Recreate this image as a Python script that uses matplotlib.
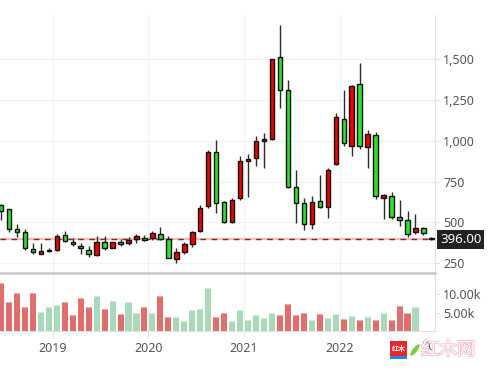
import numpy as np
import matplotlib.pyplot as plt
import matplotlib.transforms as mtransforms
import matplotlib.patheffects as pe
from matplotlib.patches import Rectangle, Ellipse

plt.rcParams['font.family'] = ['Noto Sans', 'Noto Sans CJK SC', 'DejaVu Sans']

# monthly candles
opens = [605, 581, 457, 440, 340, 309, 334, 334, 420, 377, 358, 334, 303, 383, 346, 377, 371, 401, 407,
         407, 432, 401, 274, 321, 368, 445, 600, 933, 625, 500, 649, 876, 892, 996, 1012, 1516, 1314,
         714, 622, 488, 632, 596, 855, 1132, 966, 1349, 961, 1035, 647, 662, 533, 515, 439, 466, 405]
highs = [610, 585, 489, 458, 371, 374, 342, 428, 448, 407, 374, 354, 414, 414, 380, 401, 411, 426, 420,
         448, 469, 417, 346, 382, 449, 604, 941, 1006, 633, 649, 904, 919, 1031, 1047, 1503, 1712, 1375,
         824, 647, 661, 792, 833, 1173, 1311, 1345, 1476, 1068, 1053, 676, 684, 639, 570, 553, 472, 413]
lows = [513, 444, 411, 334, 305, 309, 317, 323, 380, 358, 309, 291, 297, 334, 346, 356, 360, 371, 387,
        391, 395, 279, 254, 309, 351, 440, 588, 558, 494, 498, 637, 653, 843, 833, 1008, 1204, 708,
        494, 453, 457, 590, 530, 850, 968, 904, 949, 833, 643, 521, 521, 476, 409, 429, 425, 392]
closes = [570, 457, 440, 346, 316, 323, 322, 414, 387, 365, 346, 309, 377, 346, 377, 365, 395, 414, 395,
          438, 399, 281, 321, 366, 441, 588, 933, 617, 500, 637, 876, 890, 1000, 1012, 1500, 1314, 720,
          622, 488, 628, 592, 824, 1147, 986, 1337, 966, 1041, 662, 668, 531, 513, 429, 466, 433, 396]

# volume in thousands, with its own colour flag (1 = red, 0 = green)
volumes = [12.85, 7.93, 10.26, 6.63, 10.26, 5.34, 6.63, 7.15, 7.93, 4.56, 8.96, 6.63, 9.48, 6.11,
           8.19, 4.82, 7.93, 5.08, 6.63, 5.08, 9.48, 4.04, 4.04, 3.0, 5.86, 6.11, 11.55, 4.04,
           5.08, 3.0, 5.86, 3.26, 4.56, 3.78, 5.08, 4.56, 7.41, 4.56, 5.08, 3.26, 4.82, 3.78,
           4.82, 3.52, 4.3, 3.26, 4.04, 3.26, 5.08, 3.26, 6.89, 5.08, 6.63]
vol_red = [1, 1, 1, 1, 1, 0, 0, 0, 1, 1, 1, 1, 0, 1, 0, 1, 0, 0, 1, 0, 1, 1, 0, 0, 0, 0, 0, 1,
           1, 0, 0, 0, 0, 0, 0, 1, 1, 1, 1, 0, 1, 0, 0, 1, 0, 1, 0, 1, 0, 1, 1, 1, 0]

year_labels = ['2019', '2020', '2021', '2022']
year_pos = [6.5, 18.5, 30.5, 42.5]
price_ticks = [250, 500, 750, 1000, 1250, 1500]
vol_ticks = [5, 10]
last_price = 396.00

W, H = 493, 374
fig = plt.figure(figsize=(W/100, H/100), dpi=100)
ax = fig.add_axes([0, (H-273)/H, 435/W, 258/H])
axv = fig.add_axes([0, (H-331)/H, 435/W, 58/H])

red = '#f20000'
green = '#2ee22e'
grid_c = '#f1f1f1'
txt_c = '#555555'

# candles
bw = 0.56
for i in range(len(opens)):
    o, h, l, c = opens[i], highs[i], lows[i], closes[i]
    col = red if c > o else green
    ax.vlines(i, l, h, color='#2b2b2b', lw=1, zorder=2)
    ax.add_patch(Rectangle((i - bw/2, min(o, c)), bw, max(abs(c - o), 3),
                           facecolor=col, edgecolor='#111111', lw=1, zorder=3))

# last price line
ax.axhline(last_price, color='#f6b8b8', lw=1.6, zorder=1)
ax.axhline(last_price, color='#7a2e2e', lw=1, dashes=(4, 4), zorder=1)
trans = mtransforms.blended_transform_factory(ax.transAxes, ax.transData)
ax.text(1.012, last_price, '%.2f' % last_price, transform=trans, ha='left', va='center',
        color='white', fontsize=9.5,
        bbox=dict(boxstyle='square,pad=0.22', fc='#222222', ec='none'))

ax.set_xlim(-0.125, 54.45)
ax.set_ylim(190, 1771)
ax.set_xticks(year_pos)
ax.set_xticklabels([])
ax.set_yticks(price_ticks)
ax.set_yticklabels(['{:,}'.format(p) for p in price_ticks])
ax.yaxis.tick_right()
ax.tick_params(axis='y', length=3, pad=3, color='#dddddd', labelcolor=txt_c, labelsize=9)
ax.tick_params(axis='x', length=0)
ax.grid(True, color=grid_c, lw=0.9)
ax.set_axisbelow(True)
for s in ['top', 'left', 'bottom']:
    ax.spines[s].set_visible(False)
ax.spines['right'].set_color('#e3e3e3')

# volume
x = np.arange(len(volumes))
vols = np.array(volumes)
vc = ['#e26d6d' if r else '#a9d9b8' for r in vol_red]
cap = ['#efaaaa' if r else '#cdeed8' for r in vol_red]
axv.bar(x, vols, width=0.76, color=cap, zorder=2)
axv.bar(x, vols - 0.3, width=0.76, color=vc, zorder=2)
axv.set_xlim(-0.125, 54.45)
axv.set_ylim(0.41, 15.44)
axv.set_xticks(year_pos)
axv.set_xticklabels(year_labels)
axv.set_yticks(vol_ticks)
axv.set_yticklabels(['%.2fk' % v for v in vol_ticks])
axv.yaxis.tick_right()
axv.tick_params(axis='y', length=3, pad=3, color='#dddddd', labelcolor=txt_c, labelsize=9)
axv.tick_params(axis='x', length=5, pad=3, color='#e4e4ec', labelcolor=txt_c, labelsize=9)
axv.grid(True, axis='x', color=grid_c, lw=0.9)
axv.set_axisbelow(True)
axv.spines['left'].set_visible(False)
axv.spines['top'].set_color('#c8c8c8')
axv.spines['top'].set_linewidth(1.8)
axv.spines['bottom'].set_color('#e0e0e8')
axv.spines['right'].set_color('#e3e3e3')

# cropped 2023 label at the right edge
t = axv.text(54.5, -0.16, '2023', transform=mtransforms.blended_transform_factory(axv.transData, axv.transAxes),
             ha='center', va='top', color=txt_c, fontsize=9)
t.set_clip_box(mtransforms.TransformedBbox(mtransforms.Bbox([[0, 0], [434/W, 1]]), fig.transFigure))
t.set_clip_on(True)

# watermark
fig.patches.append(Rectangle((390/W, (H-356)/H), 17/W, 15/H, transform=fig.transFigure,
                             fc='#e8262b', ec='none'))
fig.patches.append(Rectangle((390/W, (H-359)/H), 17/W, 3/H, transform=fig.transFigure,
                             fc='#1e88e5', ec='none'))
fig.patches.append(Ellipse((415/W, (H-350)/H), 5/W, 13/H, angle=-30, transform=fig.transFigure,
                           fc='#7ccf3a', ec='none'))
fig.text(398.5/W, (H-348.5)/H, '红木', color='white', fontsize=5, ha='center', va='center',
         family=['Noto Sans CJK SC'], weight='bold')
fig.text(448/W, (H-350)/H, '红木网', color='white', fontsize=13, ha='center', va='center',
         family=['Noto Sans CJK SC'],
         path_effects=[pe.withStroke(linewidth=1.2, foreground='#f4b8c4')])

fig.savefig('out.png', dpi=100)
